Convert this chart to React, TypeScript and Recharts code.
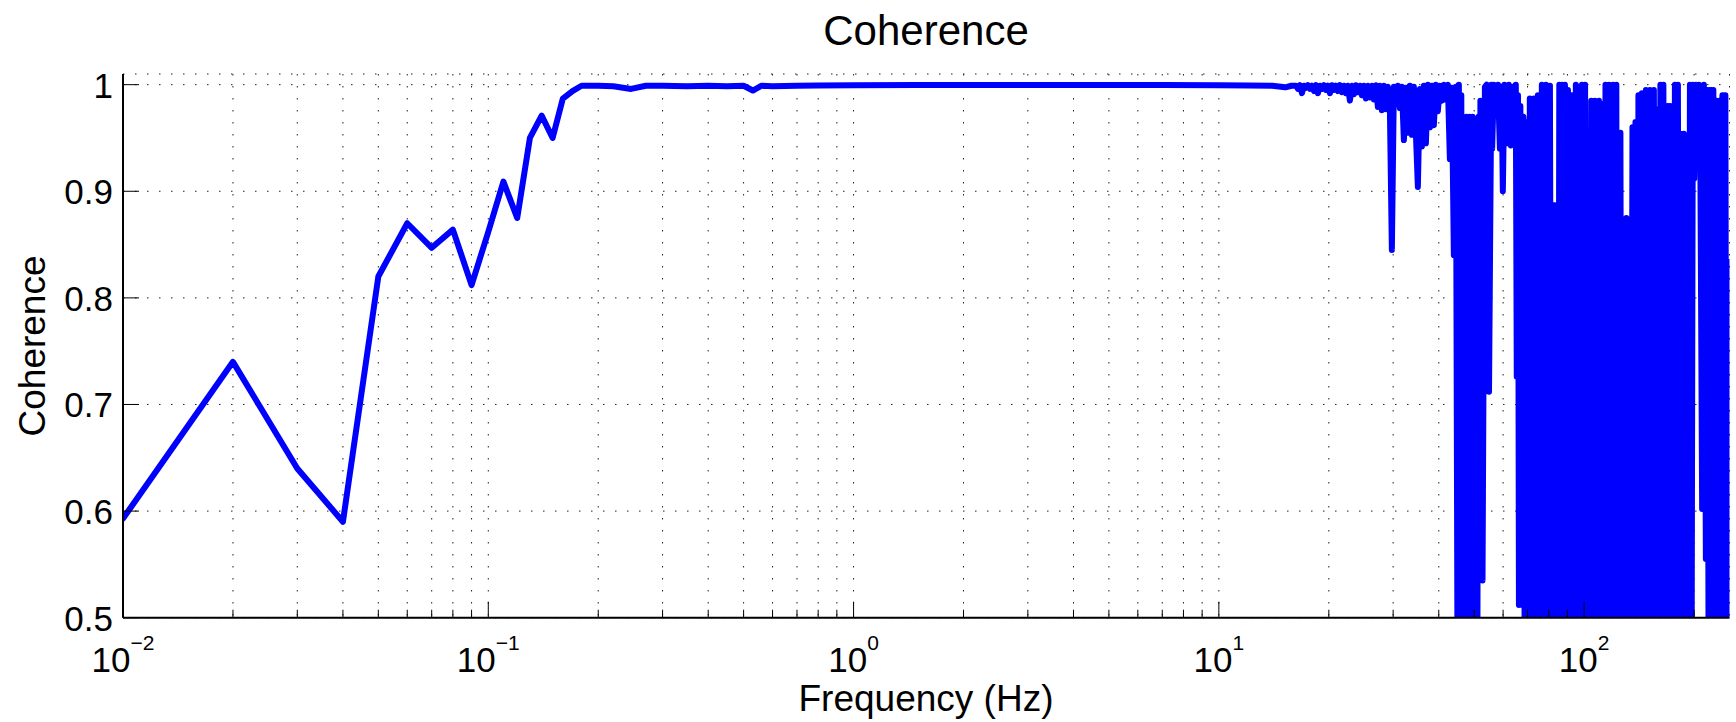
import React from 'react';
import { LineChart, Line, XAxis, YAxis, CartesianGrid } from 'recharts';

const FONT = '"Liberation Sans", Arial, Helvetica, sans-serif';
const W = 1736;
const H = 722;

// low band, one bin per 0.01 Hz
const FREQ_LOW = [0.01, 0.02, 0.03, 0.04, 0.05, 0.06, 0.07, 0.08, 0.09, 0.1, 0.11, 0.12, 0.13, 0.14, 0.15, 0.16, 0.17, 0.18, 0.19];
const COH_LOW = [0.593, 0.74, 0.64, 0.59, 0.82, 0.87, 0.847, 0.864, 0.812, 0.862, 0.909, 0.875, 0.95, 0.971, 0.95, 0.987, 0.994, 0.999, 0.999];

// plateau (0.2 - 16 Hz)
const FREQ_FLAT = [
  0.2, 0.22, 0.246, 0.27, 0.3, 0.35, 0.4, 0.45, 0.5, 0.53,
  0.56, 0.6, 0.7, 0.8, 1, 1.5, 2, 3, 5, 7,
  10, 12, 14, 15.2, 15.8,
];
const COH_FLAT = [
  0.999, 0.9985, 0.996, 0.999, 0.999, 0.9985, 0.999, 0.9985, 0.999, 0.9945,
  0.999, 0.9985, 0.999, 0.9992, 0.9995, 0.9996, 0.9997, 0.9997, 0.9997, 0.9996,
  0.9995, 0.9993, 0.999, 0.9975, 0.999,
];

// ripple band (16 - 45 Hz)
const FREQ_RIPPLE = [
  16.26, 16.47, 16.67, 16.88, 17.1, 17.31, 17.53, 17.75, 17.98, 18.21,
  18.44, 18.67, 18.91, 19.15, 19.39, 19.63, 19.88, 20.14, 20.39, 20.65,
  20.91, 21.18, 21.44, 21.72, 21.99, 22.27, 22.55, 22.84, 23.13, 23.42,
  23.72, 24.02, 24.33, 24.63, 24.95, 25.26, 25.58, 25.91, 26.24, 26.57,
  26.91, 27.25, 27.59, 27.94, 28.3, 28.66, 29.02, 29.39, 29.76, 30.14,
  30.52, 30.91, 31.3, 31.7, 32.1, 32.51, 32.92, 33.34, 33.76, 34.19,
  34.62, 35.06, 35.51, 35.96, 36.41, 36.88, 37.34, 37.82, 38.3, 38.78,
  39.27, 39.77, 40.28, 40.79, 41.31, 41.83, 42.36, 42.9, 43.44, 43.99,
  44.55,
];
const COH_RIPPLE = [
  0.999, 0.996, 0.9995, 0.992, 0.999, 0.997, 0.9995, 0.996, 0.999, 0.994,
  0.9995, 0.992, 0.999, 0.996, 0.9995, 0.995, 0.999, 0.992, 0.9995, 0.995,
  0.999, 0.994, 0.9995, 0.993, 0.999, 0.992, 0.999, 0.985, 0.999, 0.991,
  0.9995, 0.993, 0.999, 0.99, 0.999, 0.987, 0.999, 0.988, 0.999, 0.986,
  0.9995, 0.979, 0.999, 0.976, 0.999, 0.977, 0.998, 0.978, 0.845, 0.998,
  0.982, 0.999, 0.978, 0.998, 0.948, 0.997, 0.955, 0.999, 0.953, 0.998,
  0.955, 0.904, 0.996, 0.942, 0.999, 0.945, 1.0, 0.96, 0.999, 0.962,
  1.0, 0.975, 0.999, 0.985, 1.0, 0.986, 1.0, 0.93, 0.997, 0.84,
  0.998,
];

// noisy band above 45 Hz
const FREQ_HIGH = [
  45.1, 45.4, 45.7, 46.1, 46.6, 47.0, 47.3, 47.6, 48.1, 48.5,
  49.0, 49.5, 49.9, 50.4, 50.9, 51.4, 51.7, 52.0, 52.7, 53.5,
  54.1, 54.9, 55.7, 56.0, 56.6, 57.3, 58.1, 58.8, 59.4, 59.9,
  60.5, 61.4, 62.2, 63.0, 63.8, 64.4, 65.0, 65.4, 65.9, 66.3,
  66.9, 67.6, 68.2, 68.9, 69.5, 70.2, 71.0, 71.9, 72.9, 73.8,
  74.7, 75.7, 76.6, 77.6, 78.6, 79.6, 80.6, 81.6, 82.4, 83.2,
  83.9, 84.7, 85.5, 86.3, 87.1, 88.0, 88.6, 89.4, 90.3, 91.4,
  92.6, 93.7, 94.9, 96.1, 97.3, 97.9, 98.6, 99.8, 100.6, 101.8,
  102.8, 103.7, 104.6, 105.7, 107.0, 108.4, 109.8, 111.2, 112.3, 113.3,
  114.4, 115.4, 117.0, 118.4, 119.9, 121.4, 122.5, 123.2, 123.9, 124.6,
  125.7, 126.9, 128.0, 129.3, 130.5, 131.8, 133.1, 134.3, 135.6, 136.9,
  138.2, 139.5, 140.8, 142.1, 143.9, 145.8, 147.6, 149.5, 151.4, 153.3,
  155.2, 157.2, 158.7, 160.2, 161.7, 163.3, 164.8, 165.6, 167.4, 169.1,
  170.6, 172.3, 173.9, 175.5, 177.2, 178.8, 180.6, 182.3, 184.1, 185.8,
  187.5, 189.4, 191.1, 193.0, 194.8, 196.6, 198.4, 200.2, 202.3, 204.2,
  206.1, 208.1, 210.4, 212.7, 215.4, 217.4, 219.6, 221.6, 223.7, 225.8,
  228.0, 230.2, 232.4, 234.6, 236.8, 239.1, 241.3, 243.6, 246.0, 248.3,
  249.8,
];
const COH_HIGH = [
  0.35, 1.0, 0.3, 0.99, 0.4, 0.96, 0.554, 0.97, 0.3, 0.97,
  0.25, 0.97, 0.35, 0.965, 0.3, 0.97, 0.57, 0.985, 0.535, 0.998,
  1.0, 0.712, 1.0, 0.94, 1.0, 0.975, 1.0, 0.94, 0.998, 0.9,
  1.0, 0.945, 1.0, 0.943, 0.998, 0.965, 1.0, 0.726, 0.99, 0.512,
  0.98, 0.512, 0.97, 0.3, 0.965, 0.25, 0.987, 0.3, 0.987, 0.35,
  0.99, 0.2, 1.0, 0.3, 1.0, 0.25, 0.999, 0.35, 0.887, 0.3,
  0.887, 0.25, 1.0, 0.3, 1.0, 0.55, 1.0, 0.3, 0.995, 0.2,
  0.99, 0.3, 1.0, 0.35, 0.998, 0.57, 1.0, 0.25, 1.0, 0.3,
  0.884, 0.3, 0.985, 0.25, 0.985, 0.3, 0.985, 0.55, 0.982, 0.3,
  1.0, 0.25, 1.0, 0.3, 1.0, 0.2, 1.0, 0.3, 0.921, 0.35,
  0.955, 0.3, 0.87, 0.25, 0.875, 0.3, 0.865, 0.35, 0.96, 0.3,
  0.965, 0.25, 0.99, 0.3, 0.992, 0.2, 0.995, 0.3, 0.995, 0.25,
  0.995, 0.53, 0.977, 0.3, 1.0, 0.35, 1.0, 0.56, 0.98, 0.3,
  0.98, 0.25, 0.98, 0.3, 1.0, 0.35, 1.0, 0.3, 0.954, 0.25,
  0.954, 0.3, 0.935, 0.25, 1.0, 0.35, 1.0, 0.912, 1.0, 0.93,
  1.0, 0.92, 0.602, 1.0, 0.555, 0.995, 0.3, 0.995, 0.25, 0.995,
  0.3, 0.985, 0.25, 0.985, 0.3, 0.99, 0.35, 0.99, 0.3, 0.834,
  0.4,
];

const X_TICKS = [
  0.01, 0.02, 0.03, 0.04, 0.05, 0.06, 0.07, 0.08, 0.09,
  0.1, 0.2, 0.3, 0.4, 0.5, 0.6, 0.7, 0.8, 0.9,
  1, 2, 3, 4, 5, 6, 7, 8, 9,
  10, 20, 30, 40, 50, 60, 70, 80, 90,
  100, 200,
];
const X_MAJOR = [0.01, 0.1, 1, 10, 100];
const Y_TICKS = [0.5, 0.6, 0.7, 0.8, 0.9, 1];

const FREQS = [...FREQ_LOW, ...FREQ_FLAT, ...FREQ_RIPPLE, ...FREQ_HIGH];
const COHS = [...COH_LOW, ...COH_FLAT, ...COH_RIPPLE, ...COH_HIGH];
const data = FREQS.map((f, i) => ({ f, c: COHS[i] }));

const sup = (v: number) => {
  const e = Math.round(Math.log10(v));
  return e < 0 ? `\u2212${-e}` : `${e}`;
};

function BottomTick(props: any) {
  const { x, y, payload } = props;
  const major = X_MAJOR.includes(payload.value);
  return (
    <g>
      <line x1={x} x2={x} y1={y} y2={y - (major ? 16 : 8)} stroke="#000" strokeWidth={1} />
      {major && (
        <text x={x} y={y + 54} textAnchor="middle" fontFamily={FONT} fontSize={35} fill="#000">
          10
          <tspan dy={-22} fontSize={21}>{sup(payload.value)}</tspan>
        </text>
      )}
    </g>
  );
}

function TopTick(props: any) {
  const { x, y, payload } = props;
  const major = X_MAJOR.includes(payload.value);
  return <line x1={x} x2={x} y1={y} y2={y + (major ? 16 : 8)} stroke="#000" strokeWidth={1} />;
}

function LeftTick(props: any) {
  const { x, y, payload } = props;
  return (
    <g>
      <line x1={x} x2={x + 16} y1={y} y2={y} stroke="#000" strokeWidth={1} />
      <text x={x - 10} y={y + 13} textAnchor="end" fontFamily={FONT} fontSize={35} fill="#000">
        {String(payload.value)}
      </text>
    </g>
  );
}

function RightTick(props: any) {
  const { x, y } = props;
  return <line x1={x} x2={x - 16} y1={y} y2={y} stroke="#000" strokeWidth={1} />;
}

const axisLine = { stroke: '#000', strokeWidth: 2 };

export default function App() {
  return (
    <div style={{ position: 'absolute', left: 0, top: 0, width: W, height: H, background: '#fff' }}>
      <LineChart width={W} height={H} data={data} margin={{ top: 74, right: 6.5, bottom: 0, left: 0 }}>
        <CartesianGrid
          xAxisId="bottom"
          yAxisId="left"
          stroke="#222"
          strokeWidth={1}
          strokeDasharray="1.5 10.5"
        />
        <XAxis
          xAxisId="bottom"
          dataKey="f"
          type="number"
          scale="log"
          domain={[0.01, 250]}
          allowDataOverflow
          ticks={X_TICKS}
          interval={0}
          height={104.3}
          tickSize={0}
          tickMargin={0}
          tickLine={false}
          axisLine={axisLine}
          tick={BottomTick}
        />
        <XAxis
          xAxisId="top"
          orientation="top"
          dataKey="f"
          type="number"
          scale="log"
          domain={[0.01, 250]}
          allowDataOverflow
          ticks={X_TICKS}
          interval={0}
          height={0}
          tickSize={0}
          tickMargin={0}
          tickLine={false}
          axisLine={axisLine}
          tick={TopTick}
        />
        <YAxis
          yAxisId="left"
          type="number"
          domain={[0.5, 1.01]}
          allowDataOverflow
          ticks={Y_TICKS}
          interval={0}
          width={123}
          tickSize={0}
          tickMargin={0}
          tickLine={false}
          axisLine={axisLine}
          tick={LeftTick}
        />
        <YAxis
          yAxisId="right"
          orientation="right"
          type="number"
          domain={[0.5, 1.01]}
          allowDataOverflow
          ticks={Y_TICKS}
          interval={0}
          width={0}
          tickSize={0}
          tickMargin={0}
          tickLine={false}
          axisLine={axisLine}
          tick={RightTick}
        />
        <Line
          xAxisId="bottom"
          yAxisId="left"
          type="linear"
          dataKey="c"
          stroke="#0000ff"
          strokeWidth={6}
          strokeLinejoin="round"
          strokeLinecap="round"
          dot={false}
          activeDot={false}
          isAnimationActive={false}
        />
      </LineChart>
      <svg
        width={W}
        height={H}
        style={{ position: 'absolute', left: 0, top: 0, pointerEvents: 'none' }}
      >
        <text x={926} y={45} textAnchor="middle" fontFamily={FONT} fontSize={42} fill="#000">
          Coherence
        </text>
        <text x={926} y={711} textAnchor="middle" fontFamily={FONT} fontSize={37} fill="#000">
          Frequency (Hz)
        </text>
        <text
          transform="translate(45,346) rotate(-90)"
          textAnchor="middle"
          fontFamily={FONT}
          fontSize={37}
          fill="#000"
        >
          Coherence
        </text>
      </svg>
    </div>
  );
}
